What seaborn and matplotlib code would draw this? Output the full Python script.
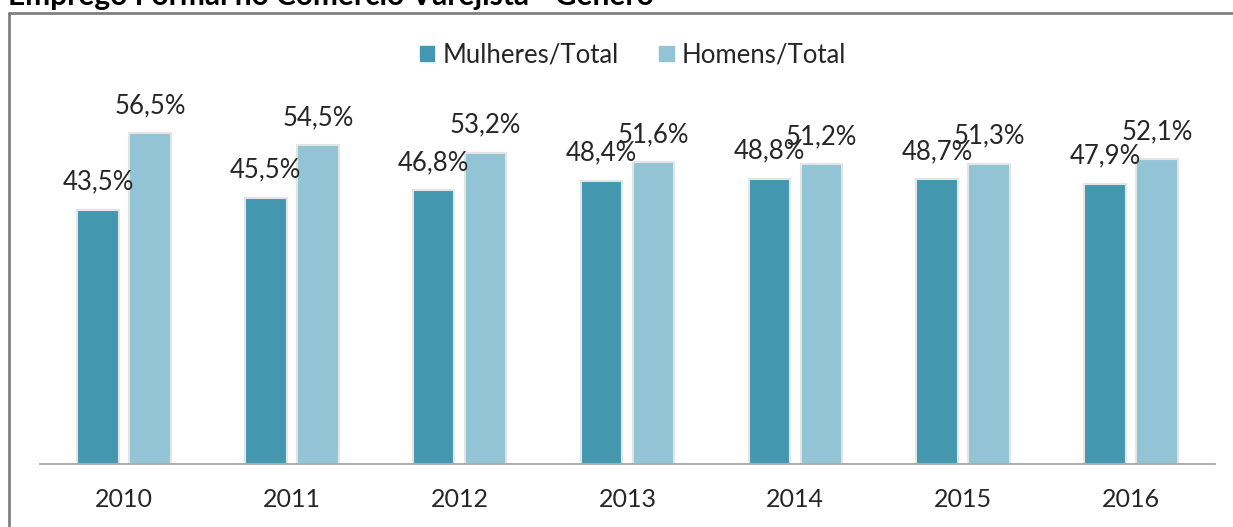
import pandas as pd
import seaborn as sns
import matplotlib.pyplot as plt
from matplotlib.lines import Line2D

# dados (percentuais)
anos = ['2010', '2011', '2012', '2013', '2014', '2015', '2016']
mulheres = [43.5, 45.5, 46.8, 48.4, 48.8, 48.7, 47.9]
homens = [56.5, 54.5, 53.2, 51.6, 51.2, 51.3, 52.1]
series = ['Mulheres/Total', 'Homens/Total']
cores = ['#4398b0', '#93c4d6']

df = pd.DataFrame({'ano': anos * 2,
                   'valor': mulheres + homens,
                   'serie': [series[0]] * len(anos) + [series[1]] * len(anos)})

sns.set_style('white')
plt.rcParams['font.family'] = ['Lato', 'DejaVu Sans']
cor_texto = '#262626'

fig = plt.figure(figsize=(12.33, 5.27), dpi=100)
ax = fig.add_axes([40 / 1233, 63 / 527, 1175 / 1233, 351 / 527])

sns.barplot(data=df, x='ano', y='valor', hue='serie', palette=cores,
            width=0.62, gap=0.2, edgecolor='#e4e4e4', linewidth=1.5,
            saturation=1, ax=ax)

for cont in ax.containers:
    ax.bar_label(cont, labels=[f'{v:.1f}%'.replace('.', ',') for v in cont.datavalues],
                 padding=11, fontsize=18.5, color=cor_texto, clip_on=False)

ax.set_ylim(0, 60)
ax.set_xlim(-0.5, len(anos) - 0.5)
ax.set_xlabel('')
ax.set_ylabel('')
ax.set_yticks([])
ax.tick_params(axis='x', length=0, labelsize=18, labelcolor=cor_texto, pad=17)
for s in ['top', 'right', 'left']:
    ax.spines[s].set_visible(False)
ax.spines['bottom'].set_color('#a0a0a0')
ax.spines['bottom'].set_linewidth(1.2)

ax.legend_.remove()
handles = [plt.Rectangle((0, 0), 1, 1, color=c) for c in cores]
fig.legend(handles, series, loc='center', bbox_to_anchor=(633 / 1233, 1 - 55 / 527),
           ncol=2, frameon=False, fontsize=18.5, handlelength=0.55, handleheight=0.55,
           handletextpad=0.3, columnspacing=1.6, labelcolor=cor_texto)

# moldura do gráfico (cortada na imagem)
fig.add_artist(Line2D([9 / 1233, 9 / 1233], [0, 1 - 13 / 527], color='#808080', lw=2))
fig.add_artist(Line2D([9 / 1233, 1], [1 - 13 / 527, 1 - 13 / 527], color='#808080', lw=2))

fig.text(8 / 1233, 1 - 5 / 527, 'Emprego Formal no Comércio Varejista - Gênero',
         fontsize=21.5, fontweight='bold', color='black', va='baseline', ha='left')

fig.savefig('out.png', dpi=100)
